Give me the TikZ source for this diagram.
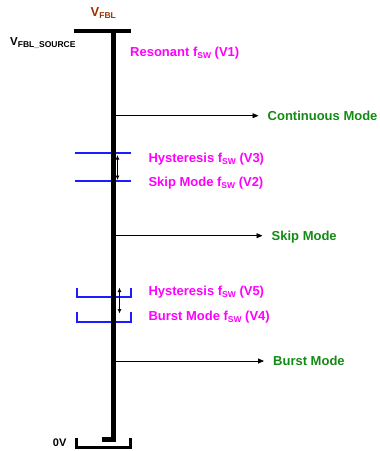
\documentclass[tikz,border=0pt]{standalone}
\usepackage{fontspec}
\setmainfont{Liberation Sans}
\usetikzlibrary{arrows.meta}
\definecolor{mag}{HTML}{FF00FF}
\definecolor{grn}{HTML}{138A13}
\definecolor{brn}{HTML}{993300}
\definecolor{blu}{HTML}{1C1CFF}
\newcommand{\sbs}[1]{\raisebox{-2.2pt}{\fontsize{8.5}{9}\selectfont #1}}
\begin{document}
\begin{tikzpicture}[x=1pt,y=-1pt,
  lbl/.style={font=\bfseries\fontsize{13}{15}\selectfont, inner sep=0pt, anchor=base west},
  maglbl/.style={lbl, text=mag},
  modelbl/.style={lbl, text=grn, anchor=west, text height=9.4pt, text depth=0pt},
  thickln/.style={line width=4.5pt, line cap=butt, line join=miter},
  bluln/.style={line width=1.8pt, draw=blu},
  conn/.style={line width=0.8pt, -{Triangle[length=6pt,width=5pt]}, shorten >=9pt},
  dbl/.style={line width=0.8pt, {Latex[length=4.5pt,width=4pt]}-{Latex[length=4.5pt,width=4pt]}}
]
\useasboundingbox (0,0) rectangle (380,451);

% labels
\node[lbl, text=brn, font=\bfseries\fontsize{13}{15}\selectfont] (vfbl) at (90.5,16.7) {V\sbs{FBL}};
\node[lbl, font=\bfseries\fontsize{11.5}{13}\selectfont] (vsrc) at (10,45.7) {V\sbs{FBL\_SOURCE}};
\node[maglbl] (v1) at (130,56) {Resonant f\sbs{SW} (V1)};
\node[maglbl] (v3) at (148.3,162) {Hysteresis f\sbs{SW} (V3)};
\node[maglbl] (v2) at (148.3,186.5) {Skip Mode f\sbs{SW} (V2)};
\node[maglbl] (v5) at (148.3,295) {Hysteresis f\sbs{SW} (V5)};
\node[maglbl] (v4) at (148.3,320) {Burst Mode f\sbs{SW} (V4)};
\node[lbl, font=\bfseries\fontsize{11}{13}\selectfont] (zero) at (52.7,446) {0V};

\node[modelbl] (cont) at (267.5,115.7) {Continuous Mode};
\node[modelbl] (skip) at (271.5,235.7) {Skip Mode};
\node[modelbl] (burst) at (273,361) {Burst Mode};

% coordinates on the main line
\coordinate (top) at (113.5,30.8);
\coordinate (bot) at (113.5,439.5);
\coordinate (c1) at (113.5,115.7);
\coordinate (c2) at (113.5,235.7);
\coordinate (c3) at (113.5,361);

% connectors
\draw[conn] (c1) -- (c1 -| cont.west);
\draw[conn] (c2) -- (c2 -| skip.west);
\draw[conn] (c3) -- (c3 -| burst.west);

% blue thresholds
\draw[bluln] (75,153) -- (131,153);
\draw[bluln] (75,181) -- (131,181);
\draw[bluln] (77,287.5) -- (77,297) -- (131,297) -- (131,287.5);
\draw[bluln] (77,311.8) -- (77,321.8) -- (131,321.8) -- (131,311.8);

% main line
\draw[thickln] (74,30.8) -- (131,30.8);
\draw[thickln] (top) -- (bot) -- ++(-11.5,0);
\draw[line width=3pt, line join=miter] (76.5,438) -- (76.5,447.8) -- (130.5,447.8) -- (130.5,438);

% hysteresis double arrows
\coordinate (h1a) at (117.5,155);
\coordinate (h1b) at (117.5,180);
\coordinate (h2a) at (119.5,287.5);
\coordinate (h2b) at (119.5,313.5);
\draw[dbl] (h1a) -- (h1b);
\draw[dbl] (h2a) -- (h2b);
\end{tikzpicture}
\end{document}
